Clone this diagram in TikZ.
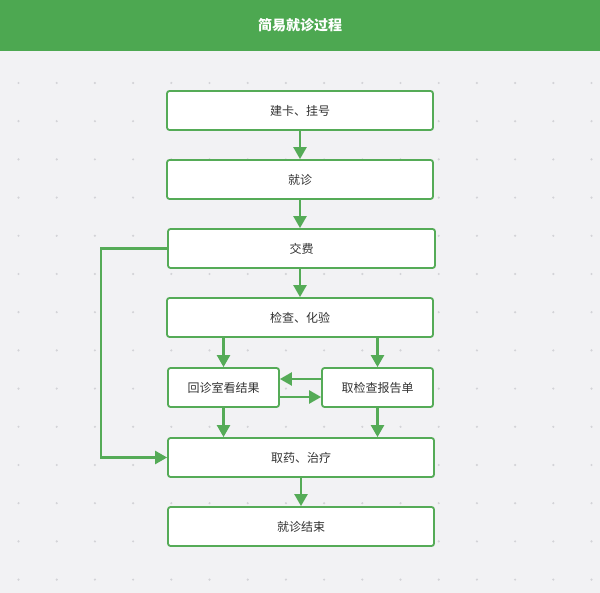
\documentclass[tikz,border=0pt]{standalone}
\usepackage{fontspec}
\setmainfont{Noto Sans CJK SC}
\usetikzlibrary{arrows.meta}
\definecolor{hdgreen}{HTML}{4DA851}
\definecolor{lngreen}{HTML}{55AB57}
\definecolor{bggray}{HTML}{F2F2F4}
\definecolor{dotgray}{HTML}{D3D3D7}
\definecolor{txtgray}{HTML}{333333}
\tikzset{
  stepbox/.style={draw=lngreen, line width=1.8pt, fill=white, rounded corners=2.5pt,
    minimum width=266pt, minimum height=39pt, inner sep=0pt,
    text=txtgray, font=\fontsize{12}{14}\selectfont},
  halfbox/.style={stepbox, minimum width=111pt},
  flow/.style={draw=lngreen, line width=2.4pt, -{Triangle[width=13pt,length=12pt]}}
}
\begin{document}
\begin{tikzpicture}[x=1pt,y=-1pt]
\useasboundingbox (0,0) rectangle (600,593);
\fill[bggray] (0,0) rectangle (600,593);
\fill[hdgreen] (0,0) rectangle (600,51);
\node[text=white, font=\fontsize{14}{16}\selectfont\bfseries] (title) at (300,25){简易就诊过程};
\foreach \i in {0,...,15}{
  \foreach \j in {0,...,13}{
    \fill[dotgray] (18.5+38.2*\i,83+38.2*\j) circle (1.2pt);
  }
}

\node[stepbox] (card) at (300,110.5){建卡、挂号};
\node[stepbox] (visit) at (300,179.5){就诊};
\node[stepbox, minimum width=267pt] (pay) at (301.5,248.5){交费};
\node[stepbox] (check) at (300,317.5){检查、化验};
\node[halfbox] (back) at (223.5,387.5){回诊室看结果};
\node[halfbox] (report) at (377.5,387.5){取检查报告单};
\node[stepbox] (cure) at (301,457.5){取药、治疗};
\node[stepbox] (done) at (301,526.5){就诊结束};

\draw[flow](card) -- (visit);
\draw[flow](visit) -- (visit |- pay.north);
\draw[flow](pay.south -| check) -- (check);
\draw[flow](check.south -| back) -- (back);
\draw[flow](check.south -| report) -- (report);
\draw[flow]([yshift=8.5pt]report.west) -- ([yshift=8.5pt]back.east);
\draw[flow]([yshift=-9.5pt]back.east) -- ([yshift=-9.5pt]report.west);
\draw[flow](back) -- (back |- cure.north);
\draw[flow](report) -- (report |- cure.north);
\draw[flow](pay.west) -- ++(-66,0) |- (cure.west);
\draw[flow](cure) -- (done);

\end{tikzpicture}
\end{document}
